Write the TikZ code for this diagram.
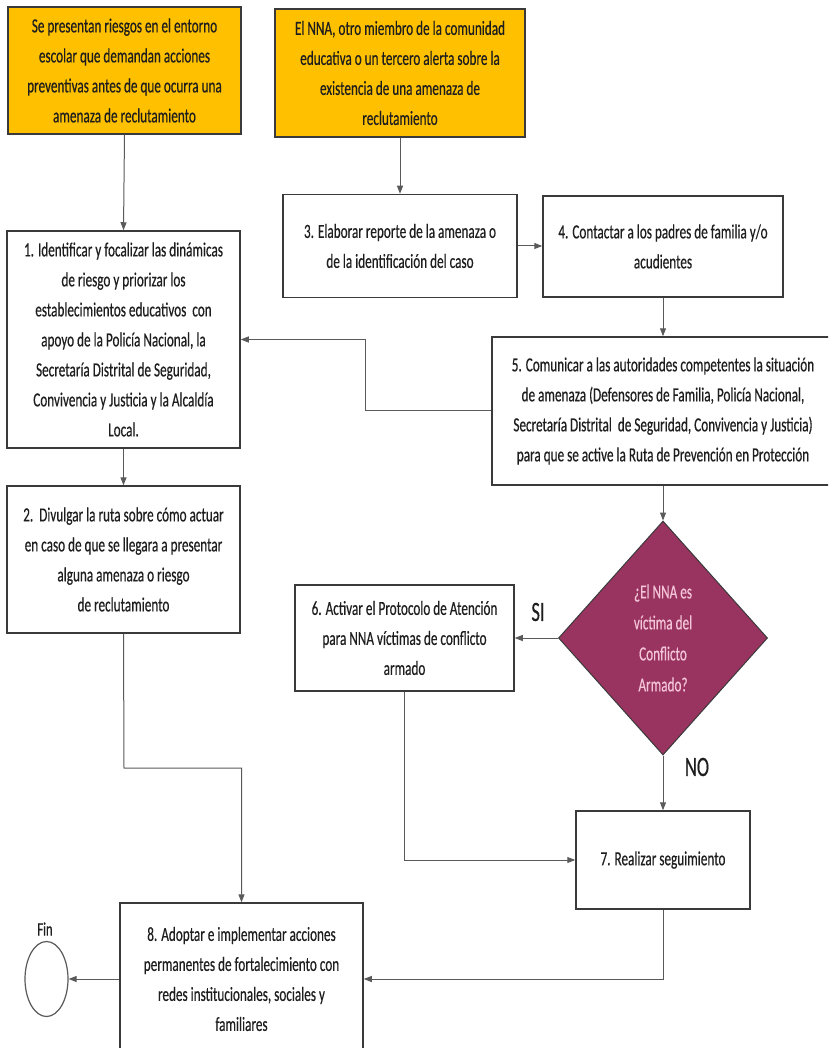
\documentclass[tikz,border=0pt]{standalone}
\usepackage{fontspec}
\setmainfont[FakeStretch=0.66,FakeBold=0.4]{Carlito}
\usetikzlibrary{shapes.geometric,arrows.meta}
\definecolor{gold}{HTML}{FFC000}
\definecolor{plum}{HTML}{993360}
\definecolor{pinktxt}{HTML}{F4C4D8}
\definecolor{edge}{HTML}{3A3A3A}
\definecolor{conn}{HTML}{5A5A5A}
\definecolor{txt}{HTML}{1E1E1E}
\tikzset{
  stepbox/.style={rectangle, draw=edge, line width=1.5pt, fill=white, align=center,
    inner sep=2pt, text=txt, font=\fontsize{20}{30}\selectfont},
  startbox/.style={stepbox, fill=gold},
  decision/.style={diamond, draw=edge, line width=1pt, fill=plum, align=center,
    inner sep=0pt, text=pinktxt, font=\fontsize{20}{31}\selectfont},
  finnode/.style={ellipse, draw=conn, line width=1.2pt, minimum width=43pt, minimum height=75pt, inner sep=0pt},
  link/.style={draw=conn, line width=1pt, -{Triangle[length=8pt,width=6pt]}},
  lbl/.style={font=\fontsize{28}{30}\selectfont, text=txt},
}
\begin{document}
\begin{tikzpicture}[x=1pt,y=-1pt]
\useasboundingbox (0,0) rectangle (828,1048);
\clip (0,0) rectangle (828,1048);
\fill[white] (0,0) rectangle (828,1048);

\node[startbox, minimum width=233pt, minimum height=127pt] (a) at (124.5,70.5)
  {Se presentan riesgos en el entorno\\escolar que demandan acciones\\preventivas antes de que ocurra una\\amenaza de reclutamiento};
\node[startbox, minimum width=250pt, minimum height=128pt] (b) at (400,73)
  {El NNA, otro miembro de la comunidad\\educativa o un tercero alerta sobre la\\existencia de una amenaza de\\reclutamiento};
\node[stepbox, minimum width=233pt, minimum height=217pt] (s1) at (123.5,339.5)
  {1. Identificar y focalizar las dinámicas\\de riesgo y priorizar los\\establecimientos educativos\ \ con\\apoyo de la Policía Nacional, la\\Secretaría Distrital de Seguridad,\\Convivencia y Justicia y la Alcaldía\\Local.};
\node[stepbox, minimum width=234pt, minimum height=103pt] (s3) at (400,246)
  {3. Elaborar reporte de la amenaza o\\de la identificación del caso};
\node[stepbox, minimum width=240pt, minimum height=101pt] (s4) at (663,246.5)
  {4. Contactar a los padres de familia y/o\\acudientes};
\node[stepbox, minimum width=342pt, minimum height=148pt] (s5) at (663,411)
  {5. Comunicar a las autoridades competentes la situación\\de amenaza (Defensores de Familia, Policía Nacional,\\Secretaría Distrital\ \ de Seguridad, Convivencia y Justicia)\\para que se active la Ruta de Prevención en Protección};
\node[stepbox, minimum width=233pt, minimum height=147pt] (s2) at (123.5,559.5)
  {2.\ \ Divulgar la ruta sobre cómo actuar\\en caso de que se llegara a presentar\\alguna amenaza o riesgo\\de reclutamiento};
\node[decision, minimum width=209pt, minimum height=234pt] (d) at (663,638)
  {¿El NNA es\\víctima del\\Conflicto\\Armado?};
\node[stepbox, minimum width=219pt, minimum height=106pt] (s6) at (404.5,638)
  {6. Activar el Protocolo de Atención\\para NNA víctimas de conflicto\\armado};
\node[stepbox, minimum width=174pt, minimum height=98pt] (s7) at (663,860)
  {7. Realizar seguimiento};
\node[stepbox, minimum width=243pt, minimum height=152pt] (s8) at (241.5,979)
  {8. Adoptar e implementar acciones\\permanentes de fortalecimiento con\\redes institucionales, sociales y\\familiares};
\node[finnode] (fin) at (46.5,979) {};
\node[text=txt, font=\fontsize{19}{20}\selectfont] (finlbl) at (45,929) {Fin};
\node[lbl] (si) at (538,612) {SI};
\node[lbl] (no) at (697,767) {NO};

\coordinate (c51) at (365,410);
\coordinate (c2a) at (124,768);

\draw[link] (a.south) -- (s1.north);
\draw[link] (b.south) -- (s3.north);
\draw[link] (s3.east) -- (s3.east -| s4.west);
\draw[link] (s4.south) -- (s5.north);
\draw[link] (s5.west |- c51) -- (c51) |- (s1.east);
\draw[link] (s1.south) -- (s2.north);
\draw[link] (s2.south) -- (c2a) -| (s8.north);
\draw[link] (s5.south) -- (d.north);
\draw[link] (d.west) -- (s6.east);
\draw[link] (d.south) -- (s7.north);
\draw[link] (s6.south) |- (s7.west);
\draw[link] (s7.south) |- (s8.east);
\draw[link] (s8.west) -- (fin.east);
\end{tikzpicture}
\end{document}
